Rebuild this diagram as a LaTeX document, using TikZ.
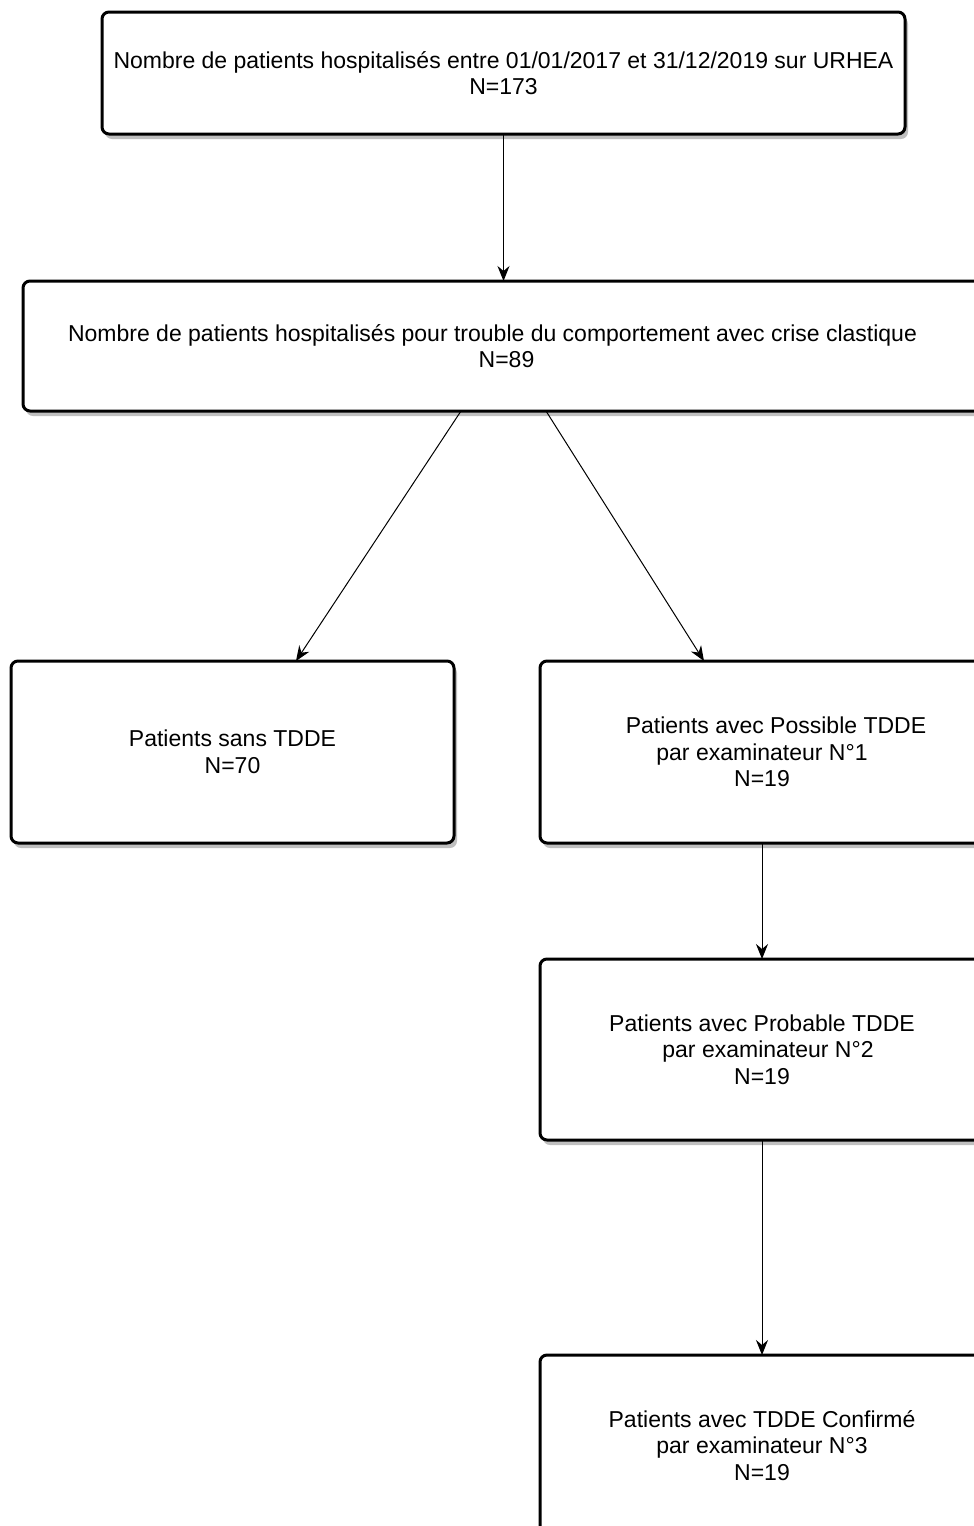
\documentclass[tikz,border=0pt]{standalone}
\usepackage{fontspec}
\setmainfont{Liberation Sans}
\usetikzlibrary{arrows.meta,shadows}

\tikzset{
  Box/.style={draw, line width=3pt, rounded corners=7pt, fill=white,
    inner sep=0pt, outer sep=0pt, align=center,
    font=\fontsize{23}{26.5}\selectfont,
    drop shadow={shadow xshift=3pt, shadow yshift=-5pt, fill=black, opacity=0.25}},
  Arrow/.style={-{Stealth[length=15pt,width=12pt,inset=5pt]}, line width=1pt}
}

\begin{document}
\begin{tikzpicture}[x=1pt,y=-1pt]
  \useasboundingbox (0,0) rectangle (974,1526);
  \clip (0,0) rectangle (974,1526);

  \node[Box, minimum width=803pt, minimum height=122pt] (Hosp) at (503.5,73)
    {Nombre de patients hospitalisés entre 01/01/2017 et 31/12/2019 sur URHEA\\N=173};
  \node[Box, minimum width=967pt, minimum height=130pt] (Crise) at (506.5,346)
    {Nombre de patients hospitalisés pour trouble du comportement avec crise clastique\hspace*{28pt}\\N=89};
  \node[Box, minimum width=443pt, minimum height=182pt] (Sans) at (232.5,752)
    {Patients sans TDDE\\N=70};
  \node[Box, minimum width=444pt, minimum height=182pt] (Possible) at (762,752)
    {\hspace*{28pt}Patients avec Possible TDDE\\par examinateur N°1\hspace*{28pt}\\N=19};
  \node[Box, minimum width=444pt, minimum height=181pt] (Probable) at (762,1049.5)
    {Patients avec Probable TDDE\\\hspace*{12pt}par examinateur N°2\\N=19};
  \node[Box, minimum width=444pt, minimum height=181pt] (Confirme) at (762,1445.5)
    {Patients avec TDDE Confirmé\\par examinateur N°3\\N=19};

  \draw[Arrow] (Hosp.south) -- (Hosp.south |- Crise.north);
  \draw[Arrow] ([xshift=-45.5pt]Crise.south) -- ([xshift=63.5pt]Sans.north);
  \draw[Arrow] ([xshift=39.5pt]Crise.south) -- ([xshift=-58pt]Possible.north);
  \draw[Arrow] (Possible) -- (Probable);
  \draw[Arrow] (Probable) -- (Confirme);
\end{tikzpicture}
\end{document}
